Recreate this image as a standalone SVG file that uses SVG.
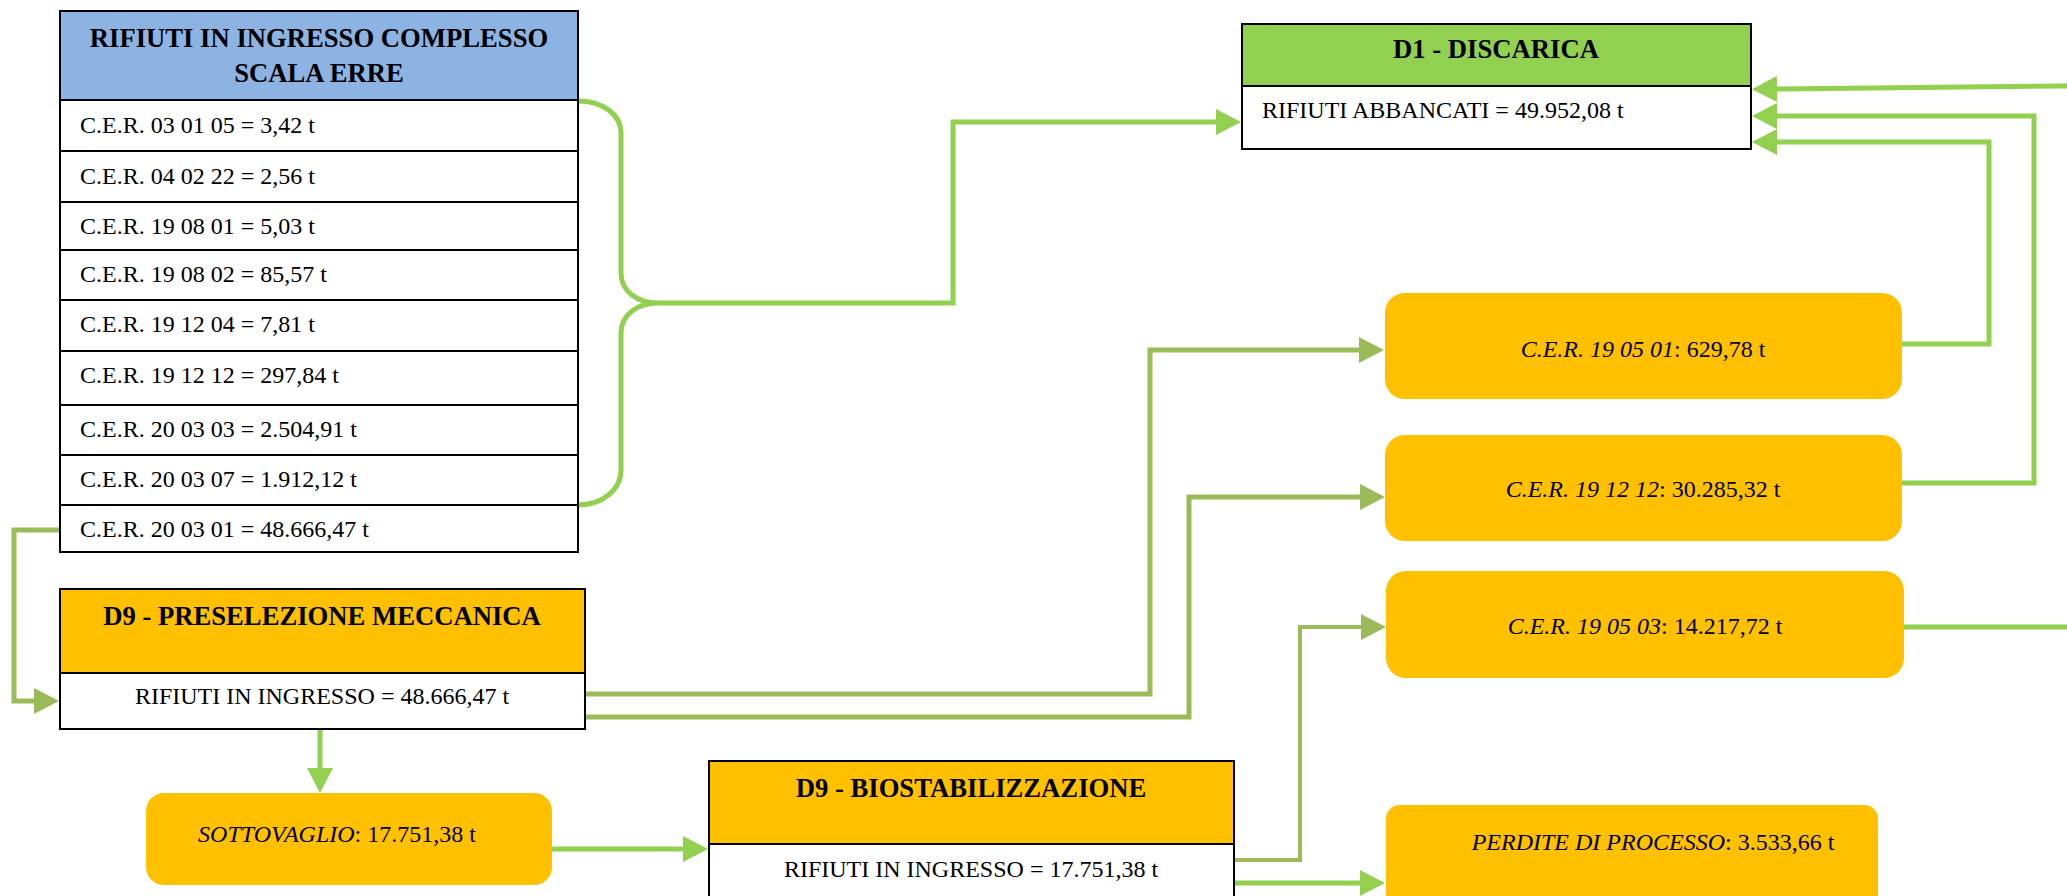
<svg xmlns="http://www.w3.org/2000/svg" width="2067" height="896" viewBox="0 0 2067 896">
<style>
.box{stroke:#000;stroke-width:2}
.hdrB{fill:#8DB3E2}
.hdrG{fill:#92D050}
.hdrO{fill:#FFC000}
.wh{fill:#fff}
.rnd{fill:#FFC000;stroke:none}
.t{font-family:"Liberation Serif","Times New Roman",serif;font-size:24px;fill:#000}
.b{font-weight:bold;font-size:26.67px}
.m{text-anchor:middle}
.c1{fill:none;stroke:#92D050;stroke-width:5}
.c2{fill:none;stroke:#9BBB59;stroke-width:5}
</style>
<defs>
<marker id="aG" markerUnits="userSpaceOnUse" markerWidth="25" markerHeight="26" refX="0" refY="13" orient="auto" overflow="visible">
<path d="M0,0 L25,13 L0,26 Z" fill="#92D050"/>
</marker>
<marker id="aO" markerUnits="userSpaceOnUse" markerWidth="25" markerHeight="26" refX="0" refY="13" orient="auto" overflow="visible">
<path d="M0,0 L25,13 L0,26 Z" fill="#9BBB59"/>
</marker>
</defs>
<rect width="2067" height="896" fill="#fff"/>

<g id="connectors">
<path class="c1" d="M578,101 C602,101 621,114 621,133 L621,273 C621,291 637,303 658,303 C637,303 621,315 621,333 L621,470 C621,490 602,505 578,505"/>
<path class="c1" d="M658,303 L953,303 L953,122 L1216,122" marker-end="url(#aG)"/>
<path class="c2" d="M59,530 L14,530 L14,701 L34,701" marker-end="url(#aO)"/>
<path class="c2" d="M585,694 L1150,694 L1150,350 L1359,350" marker-end="url(#aO)"/>
<path class="c2" d="M585,717 L1189,717 L1189,497 L1360,497" marker-end="url(#aO)"/>
<path class="c1" d="M320,729 L320,768" marker-end="url(#aG)"/>
<path class="c1" d="M552,849 L683,849" marker-end="url(#aG)"/>
<path class="c2" style="stroke-width:4" d="M1234,860 L1300,860 L1300,627 L1361,627" marker-end="url(#aO)"/>
<path class="c1" d="M1234,883 L1360,883" marker-end="url(#aG)"/>
<path class="c1" d="M1902,344 L1989,344 L1989,142 L1777,142" marker-end="url(#aG)"/>
<path class="c1" d="M1902,483 L2034,483 L2034,116 L1777,116" marker-end="url(#aG)"/>
<path class="c1" d="M1904,627 L2067,627"/>
<path class="c1" d="M2067,86 L1777,89" marker-end="url(#aG)"/>
</g>

<g id="rifiuti-ingresso">
<rect class="box hdrB" x="60" y="11" width="518" height="89"/>
<rect class="box wh" x="60" y="100" width="518" height="51"/>
<rect class="box wh" x="60" y="151" width="518" height="51"/>
<rect class="box wh" x="60" y="202" width="518" height="48"/>
<rect class="box wh" x="60" y="250" width="518" height="50"/>
<rect class="box wh" x="60" y="300" width="518" height="51"/>
<rect class="box wh" x="60" y="351" width="518" height="54"/>
<rect class="box wh" x="60" y="405" width="518" height="50"/>
<rect class="box wh" x="60" y="455" width="518" height="50"/>
<rect class="box wh" x="60" y="505" width="518" height="47"/>
<text class="t b m" x="319" y="47">RIFIUTI IN INGRESSO COMPLESSO</text>
<text class="t b m" x="319" y="82">SCALA ERRE</text>
<text class="t" x="80" y="133">C.E.R. 03 01 05 = 3,42 t</text>
<text class="t" x="80" y="184">C.E.R. 04 02 22 = 2,56 t</text>
<text class="t" x="80" y="234">C.E.R. 19 08 01 = 5,03 t</text>
<text class="t" x="80" y="282">C.E.R. 19 08 02 = 85,57 t</text>
<text class="t" x="80" y="332">C.E.R. 19 12 04 = 7,81 t</text>
<text class="t" x="80" y="383">C.E.R. 19 12 12 = 297,84 t</text>
<text class="t" x="80" y="437">C.E.R. 20 03 03 = 2.504,91 t</text>
<text class="t" x="80" y="487">C.E.R. 20 03 07 = 1.912,12 t</text>
<text class="t" x="80" y="537">C.E.R. 20 03 01 = 48.666,47 t</text>
</g>

<g id="d1-discarica">
<rect class="box hdrG" x="1242" y="24" width="509" height="62"/>
<rect class="box wh" x="1242" y="86" width="509" height="63"/>
<text class="t b m" x="1496" y="58">D1 - DISCARICA</text>
<text class="t" x="1262" y="118">RIFIUTI ABBANCATI = 49.952,08 t</text>
</g>

<g id="cer-190501">
<rect class="rnd" x="1385" y="293" width="517" height="106" rx="20"/>
<text class="t m" x="1643" y="357"><tspan font-style="italic">C.E.R. 19 05 01</tspan>: 629,78 t</text>
</g>

<g id="cer-191212">
<rect class="rnd" x="1385" y="435" width="517" height="106" rx="20"/>
<text class="t m" x="1643" y="497"><tspan font-style="italic">C.E.R. 19 12 12</tspan>: 30.285,32 t</text>
</g>

<g id="cer-190503">
<rect class="rnd" x="1386" y="571" width="518" height="107" rx="20"/>
<text class="t m" x="1645" y="634"><tspan font-style="italic">C.E.R. 19 05 03</tspan>: 14.217,72 t</text>
</g>

<g id="perdite">
<rect class="rnd" x="1386" y="805" width="492" height="110" rx="14"/>
<text class="t m" x="1653" y="850"><tspan font-style="italic">PERDITE DI PROCESSO</tspan>: 3.533,66 t</text>
</g>

<g id="d9-preselezione">
<rect class="box hdrO" x="60" y="589" width="525" height="84"/>
<rect class="box wh" x="60" y="673" width="525" height="56"/>
<text class="t b m" x="322" y="625">D9 - PRESELEZIONE MECCANICA</text>
<text class="t m" x="322" y="704">RIFIUTI IN INGRESSO = 48.666,47 t</text>
</g>

<g id="sottovaglio">
<rect class="rnd" x="146" y="793" width="406" height="92" rx="18"/>
<text class="t m" x="337" y="842"><tspan font-style="italic">SOTTOVAGLIO</tspan>: 17.751,38 t</text>
</g>

<g id="d9-biostabilizzazione">
<rect class="box hdrO" x="709" y="761" width="525" height="83"/>
<rect class="box wh" x="709" y="844" width="525" height="70"/>
<text class="t b m" x="971" y="797">D9 - BIOSTABILIZZAZIONE</text>
<text class="t m" x="971" y="877">RIFIUTI IN INGRESSO = 17.751,38 t</text>
</g>
</svg>
